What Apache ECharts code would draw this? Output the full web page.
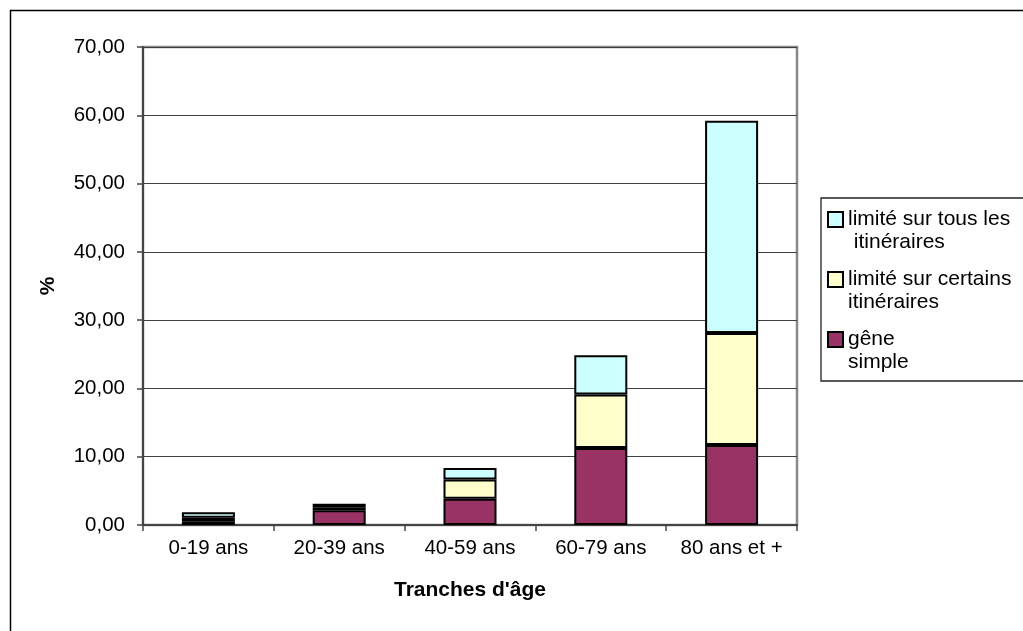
<!DOCTYPE html>
<html>
<head>
<meta charset="utf-8">
<script src="https://cdn.jsdelivr.net/npm/echarts@6/dist/echarts.min.js"></script>
<style>
html,body{margin:0;padding:0;background:#fff;}
#chart{width:1023px;height:631px;}
</style>
</head>
<body>
<div id="chart"></div>
<script>
const categories = ['0-19 ans', '20-39 ans', '40-59 ans', '60-79 ans', '80 ans et +'];
const geneSimple = [0.49, 2.15, 3.85, 11.26, 11.7];
const limiteCertains = [0.59, 0.45, 2.8, 7.85, 16.4];
const limiteTous = [0.78, 0.5, 1.7, 5.75, 31.1];
const seriesNames = ['gêne simple', 'limité sur certains itinéraires', 'limité sur tous les itinéraires'];
const legendLabels = {
  'limité sur tous les itinéraires': 'limité sur tous les\n itinéraires',
  'limité sur certains itinéraires': 'limité sur certains\nitinéraires',
  'gêne simple': 'gêne\nsimple'
};
const yMin = 0, yMax = 70, yStep = 10;
const xAxisTitle = "Tranches d'âge";
const yAxisTitle = '%';

const FONT = "'Liberation Sans', Arial, sans-serif";
const chart = echarts.init(document.getElementById('chart'), null, {renderer: 'canvas'});
const colors = ['#993366', '#FFFFCC', '#CCFFFF'];
const dataSets = [geneSimple, limiteCertains, limiteTous];

const iconPath = 'path://M0,0 M15,45 M0,4 L15,4 L15,19 L0,19 Z';

chart.setOption({
  animation: false,
  backgroundColor: '#fff',
  graphic: [{
    type: 'rect', left: 8, top: 8,
    shape: {x: 0, y: 0, width: 1100, height: 700},
    style: {fill: 'none', stroke: '#000', lineWidth: 1.5},
    silent: true, z: -10
  }],
  grid: {left: 143, top: 47, width: 654, height: 478, show: true, borderColor: '#888', borderWidth: 2.5, backgroundColor: 'transparent'},
  legend: {
    orient: 'vertical', left: 821, top: 198,
    data: [seriesNames[2], seriesNames[1], seriesNames[0]],
    formatter: n => legendLabels[n],
    icon: iconPath,
    itemWidth: 15, itemHeight: 45, itemGap: 13,
    padding: [9, 30, 7, 6],
    borderColor: '#222', borderWidth: 1.3, backgroundColor: '#fff',
    itemStyle: {borderColor: '#000', borderWidth: 2},
    textStyle: {fontFamily: FONT, fontSize: 21, lineHeight: 22.5, color: '#000'},
    selectedMode: false
  },
  xAxis: {
    type: 'category', data: categories,
    name: xAxisTitle, nameLocation: 'middle', nameGap: 55,
    nameTextStyle: {fontFamily: FONT, fontSize: 21, fontWeight: 'bold', color: '#000'},
    axisLine: {lineStyle: {color: '#444', width: 2}},
    axisTick: {show: true, length: 6, lineStyle: {color: '#444', width: 1.5}},
    axisLabel: {fontFamily: FONT, fontSize: 20.5, color: '#000', margin: 13, interval: 0}
  },
  yAxis: {
    type: 'value', min: yMin, max: yMax, interval: yStep,
    name: yAxisTitle, nameLocation: 'middle', nameGap: 84,
    nameTextStyle: {fontFamily: FONT, fontSize: 21, fontWeight: 'bold', color: '#000'},
    axisLine: {show: true, lineStyle: {color: '#444', width: 2}},
    axisTick: {show: true, length: 6, lineStyle: {color: '#444', width: 1.5}},
    axisLabel: {fontFamily: FONT, fontSize: 20.5, color: '#000', margin: 18,
      formatter: v => v.toFixed(2).replace('.', ',')},
    splitLine: {show: true, lineStyle: {color: '#404040', width: 1}}
  },
  series: seriesNames.map((name, i) => ({
    name, type: 'bar', stack: 'total', data: dataSets[i], barWidth: 53,
    itemStyle: {color: colors[i], borderColor: '#000', borderWidth: 2},
    emphasis: {disabled: true}
  }))
});
</script>
</body>
</html>
